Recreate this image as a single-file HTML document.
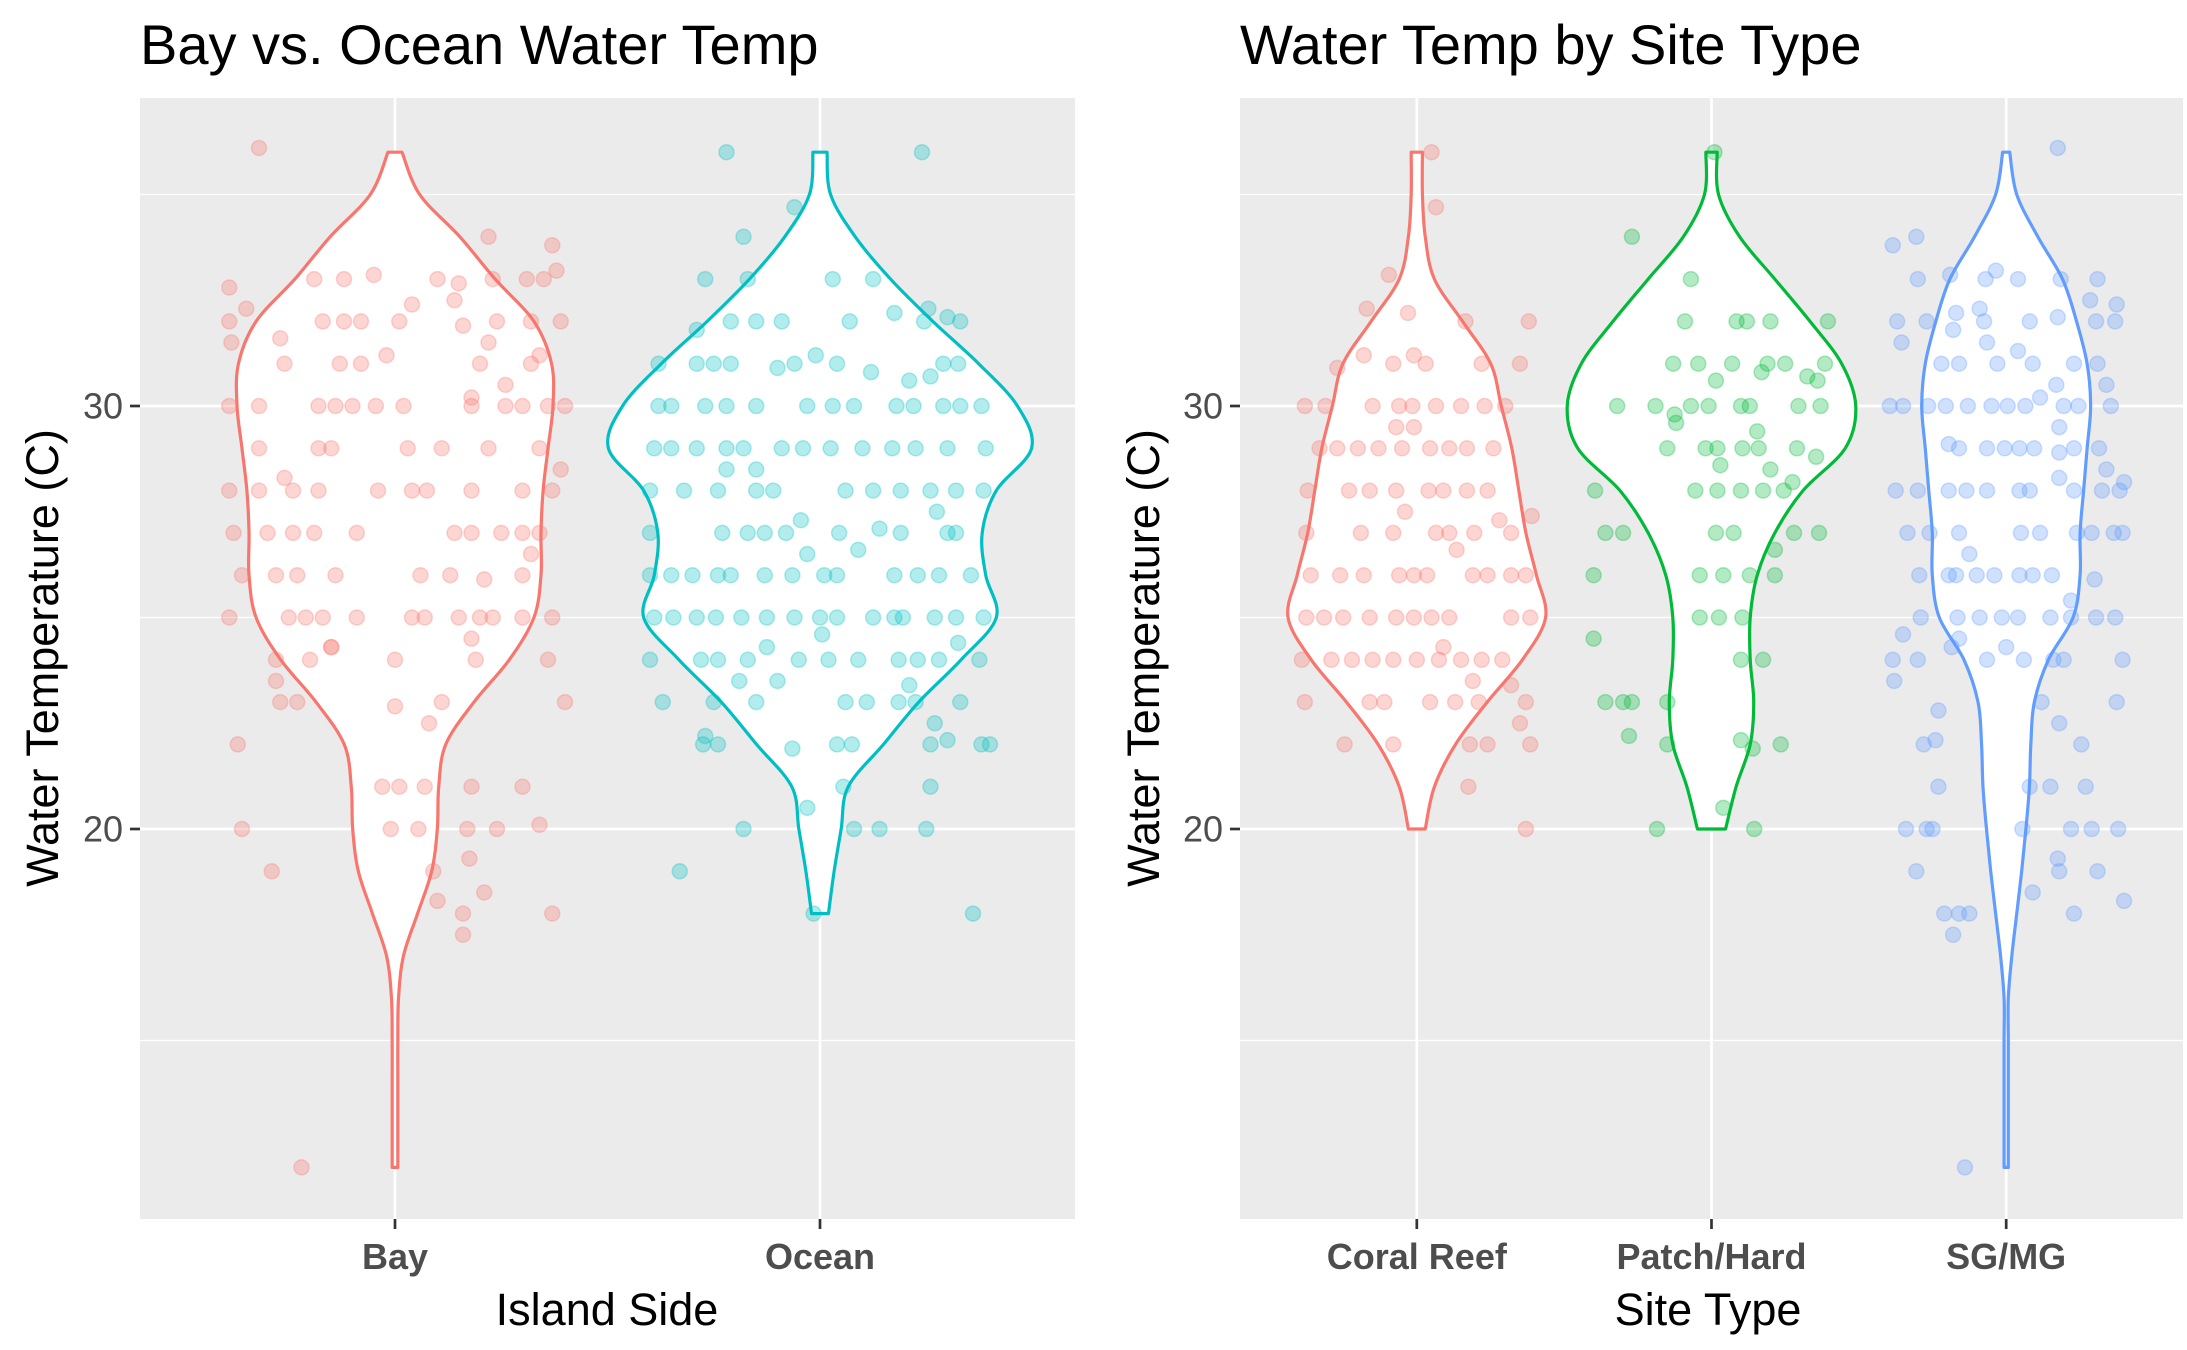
<!DOCTYPE html>
<html><head><meta charset="utf-8"><style>
html,body{margin:0;padding:0;background:#fff}
svg{display:block;font-family:"Liberation Sans",Arial,sans-serif}
</style></head><body>
<svg id="chart" width="2187" height="1350" viewBox="0 0 2187 1350" xmlns="http://www.w3.org/2000/svg">
<rect width="2187" height="1350" fill="#fff"/>
<g id="left"></g>
<g id="right"></g>
<text x="140" y="64" font-size="56" fill="#000">Bay vs. Ocean Water Temp</text>
<text x="1240" y="64" font-size="56" fill="#000">Water Temp by Site Type</text>
<text transform="translate(58,658) rotate(-90)" text-anchor="middle" font-size="45" fill="#000">Water Temperature (C)</text>
<text transform="translate(1159,658) rotate(-90)" text-anchor="middle" font-size="45" fill="#000">Water Temperature (C)</text>
<text x="607" y="1325" text-anchor="middle" font-size="45" fill="#000">Island Side</text>
<text x="1708" y="1325" text-anchor="middle" font-size="45" fill="#000">Site Type</text>
</svg>
<script>
const yTicks=[20,30];
const yMinor=[15,25,35];
const leftCats=["Bay","Ocean"];
const rightCats=["Coral Reef","Patch/Hard","SG/MG"];
const bayDensStart=12;
const bayDens=[4,4,4,4,5,12,32,52,60,62,72,112,162,197,207,207,210,217,224,222,197,142,92,35,10];
const oceanDensStart=18;
const oceanDens=[12,20,30,40,90,140,200,250,235,230,250,300,280,225,160,100,50,15,10];
const coralDensStart=20;
const coralDens=[12,25,55,100,150,183,170,155,145,135,120,105,65,25,12,8,8];
const patchDensStart=20;
const patchDens=[20,35,55,60,55,55,65,90,130,190,205,185,140,90,40,10,8];
const sgDensStart=12;
const sgDens=[3,3,3,3,3,8,15,22,28,33,35,40,60,95,105,105,110,115,120,115,100,80,45,15,5];
const bayPoints=[[36.1,-.32],[12,-.22],[32.8,-.39],[32.3,-.35],[32,-.39],[31.5,-.385],[30,-.39],[28,-.39],[27,-.38],[26,-.36],[25,-.39],[22,-.37],[20,-.36],[19,-.29],[31.6,-.27],[31,-.26],[30,-.32],[29,-.32],[28.3,-.26],[28,-.32],[28,-.24],[27,-.3],[27,-.24],[26,-.28],[26,-.23],[25,-.25],[25,-.21],[25,-.17],[24,-.28],[24,-.2],[24.3,-.15],[23.5,-.28],[23,-.27],[23,-.23],[33,-.19],[33,-.12],[33.1,-.05],[32,-.17],[32,-.12],[32,-.08],[32,.01],[32.4,.04],[31.2,-.02],[31,-.13],[31,-.08],[30,-.18],[30,-.14],[30,-.1],[30,-.045],[30,.02],[29,-.18],[29,-.15],[29,.03],[28,-.18],[28,-.04],[28,.04],[28,.075],[27,-.19],[27,-.09],[26,-.14],[26,.06],[26,.13],[25,-.09],[25,.04],[25,.07],[24.3,-.15],[24,0],[22.9,0],[22.5,.08],[23,.11],[21,-.03],[21,.01],[21,.07],[20,-.01],[20,.055],[19,.09],[18.3,.1],[33,.1],[32.9,.15],[32.5,.14],[31.9,.16],[34,.22],[33,.23],[33,.31],[33,.35],[33.8,.37],[33.2,.38],[32,.24],[32,.32],[32,.39],[31.5,.22],[31,.2],[31,.32],[31.2,.34],[30.5,.26],[30.2,.18],[30,.18],[30,.26],[30,.3],[30,.36],[30,.4],[29,.11],[29,.22],[29,.34],[28.5,.39],[28,.18],[28,.3],[28,.37],[27,.14],[27,.18],[27,.25],[27,.3],[27,.34],[26.5,.32],[25.9,.21],[26,.3],[25,.15],[25,.2],[25,.23],[25,.3],[25,.37],[24.5,.18],[24,.19],[24,.36],[23,.4],[21,.18],[21,.3],[20,.17],[20,.24],[20.1,.34],[19.3,.175],[18.5,.21],[18,.16],[17.5,.16],[18,.37]];
const oceanPoints=[[36,-.22],[36,.24],[34.7,-.06],[34,-.18],[33,-.27],[33,-.17],[33,.03],[33,.125],[31.8,-.29],[32,-.21],[32,-.15],[32,-.09],[32,.07],[32.2,.175],[32.3,.255],[32,.245],[32.1,.3],[32,.33],[31,-.38],[31,-.29],[31,-.25],[31,-.21],[30.9,-.1],[31,-.06],[31.2,-.01],[31,.04],[30.8,.12],[30.6,.21],[30.7,.26],[31,.29],[31,.325],[30,-.38],[30,-.35],[30,-.27],[30,-.22],[30,-.15],[30,-.03],[30,.03],[30,.08],[30,.18],[30,.22],[30,.29],[30,.33],[30,.38],[29,-.39],[29,-.35],[29,-.29],[29,-.22],[29,-.18],[29,-.09],[29,-.04],[29,.025],[29,.1],[29,.17],[29,.225],[29,.3],[29,.39],[28.5,-.22],[28.5,-.15],[28,-.4],[28,-.32],[28,-.24],[28,-.15],[28,-.11],[28,.06],[28,.125],[28,.19],[28,.26],[28,.32],[28,.385],[27.5,.275],[27,-.4],[27,-.23],[27,-.17],[27,-.13],[27,-.08],[27.3,-.045],[27,.045],[27.1,.14],[27,.19],[27,.3],[27,.32],[26.5,-.03],[26.6,.09],[26,-.4],[26,-.35],[26,-.3],[26,-.24],[26,-.21],[26,-.13],[26,-.065],[26,.01],[26,.04],[26,.175],[26,.23],[26,.28],[26,.355],[25,-.39],[25,-.345],[25,-.29],[25,-.245],[25,-.185],[25,-.125],[25,-.06],[25,0],[25,.04],[25,.125],[25,.175],[25,.195],[25,.27],[25,.32],[25,.385],[24.6,.005],[24,-.4],[24,-.28],[24,-.24],[24,-.17],[24.3,-.125],[24,-.05],[24,.02],[24,.09],[24,.185],[24,.23],[24,.28],[24.4,.325],[24,.375],[23.5,-.19],[23.5,-.1],[23.4,.21],[23,-.37],[23,-.25],[23,-.15],[23,.06],[23,.11],[23,.185],[23,.225],[23,.33],[22.5,.27],[22,-.275],[22,-.24],[22.2,-.27],[21.9,-.065],[22,.04],[22,.075],[22,.26],[22.1,.3],[22,.38],[22,.4],[20.5,-.03],[21,.055],[21,.26],[20,-.18],[20,.08],[20,.14],[20,.25],[19,-.33],[18,-.015],[18,.36]];
const coralPoints=[[36,.05],[34.7,.065],[33.1,-.095],[32.3,-.17],[32,.165],[32,.38],[32.2,-.03],[31.2,-.18],[30.9,-.27],[31,-.08],[31.2,-.01],[31,.03],[31,.22],[31,.35],[30,-.38],[30,-.31],[30,-.15],[30,-.06],[30,-.015],[30,.065],[30,.15],[30,.23],[30,.3],[29.5,-.07],[29.5,-.01],[29,-.33],[29,-.27],[29,-.2],[29,-.13],[29,-.05],[29,.045],[29,.11],[29,.17],[29,.26],[28,-.37],[28,-.23],[28,-.16],[28,-.07],[28,.04],[28,.09],[28,.17],[28,.24],[27.4,.39],[27.5,-.04],[27,-.375],[27,-.19],[27,-.08],[27,.065],[27,.11],[27,.195],[27.3,.28],[27,.32],[26.6,.135],[26,-.36],[26,-.26],[26,-.18],[26,-.06],[26,-.01],[26,.035],[26,.19],[26,.24],[26,.32],[26,.37],[25,-.375],[25,-.315],[25,-.25],[25,-.16],[25,-.07],[25,-.01],[25,.05],[25,.11],[25,.32],[25,.385],[24,-.39],[24,-.29],[24,-.22],[24,-.15],[24,-.08],[24,0],[24,.075],[24,.15],[24,.22],[24,.29],[24.3,.09],[23.5,.19],[23.4,.32],[23,-.38],[23,-.16],[23,-.11],[23,.045],[23,.13],[23,.21],[23,.37],[22.5,.35],[22,-.245],[22,-.08],[22,.18],[22,.24],[22,.385],[21,.175],[20,.37]];
const patchPoints=[[36,.01],[34,-.27],[33,-.07],[32,-.09],[32,.085],[32,.12],[32,.2],[32,.395],[31,-.13],[31,-.045],[31,.07],[31,.19],[31,.25],[31,.385],[30.8,.17],[30.6,.015],[30.7,.325],[30.6,.36],[30,-.32],[30,-.19],[30,-.07],[30,-.01],[30,.1],[30,.13],[30,.295],[30,.37],[29.8,-.125],[29.6,-.12],[29.4,.155],[29,-.15],[29,-.02],[29,.02],[29,.105],[29,.16],[29,.29],[28.8,.355],[28.6,.03],[28.5,.2],[28,-.395],[28,-.055],[28,.02],[28,.1],[28,.175],[28,.245],[28.2,.275],[27,-.36],[27,-.3],[27,.015],[27,.075],[27,.28],[27,.365],[26.6,.215],[26,-.4],[26,-.04],[26,.04],[26,.13],[26,.215],[25,-.04],[25,.025],[25,.105],[24.5,-.4],[24,.1],[24,.175],[23,-.36],[23,-.3],[23,-.27],[23,-.15],[22.2,-.28],[22,-.15],[22.1,.1],[21.9,.14],[22,.235],[20.5,.04],[20,-.185],[20,.145]];
const sgPoints=[[36.1,.175],[33.8,-.385],[34,-.305],[33,-.3],[33.1,-.19],[33,-.07],[33.2,-.035],[33,.04],[33,.185],[33,.31],[32.5,.285],[32.4,.375],[32,-.37],[32,-.27],[32.2,-.17],[32,-.075],[32,.08],[32.1,.175],[32,.305],[32,.37],[31.5,-.355],[31.8,-.18],[32.3,-.09],[31.5,-.065],[31,-.22],[31,-.16],[31,-.03],[31.3,.04],[31,.09],[31,.23],[31,.31],[30.5,.17],[30.5,.34],[30,-.395],[30,-.35],[30,-.265],[30,-.205],[30,-.13],[30,-.05],[30,.005],[30,.065],[30,.195],[30,.245],[30,.355],[30.2,.115],[29.5,.18],[29.1,-.195],[29,-.16],[29,-.065],[29,-.005],[29,.045],[29,.095],[28.9,.18],[29,.23],[29,.315],[28.5,.34],[28,-.375],[28,-.3],[28,-.195],[28,-.135],[28,-.065],[28,.045],[28,.08],[28.3,.18],[28,.23],[28,.325],[28,.385],[28.2,.4],[27,-.335],[27,-.26],[27,-.16],[26.5,-.125],[27,.05],[27,.115],[27,.24],[27,.29],[27,.365],[27,.395],[26,-.295],[26,-.195],[26,-.17],[26,-.1],[26,-.04],[26,.045],[26,.09],[26,.155],[25.9,.3],[25,-.29],[25,-.165],[25,-.09],[25,-.015],[25,.04],[25,.15],[25,.22],[25,.305],[25,.37],[25.4,.22],[24,-.385],[24.6,-.35],[24,-.3],[24.3,-.185],[24.5,-.16],[24,-.065],[24.3,0],[24,.06],[24,.16],[24,.195],[24,.395],[23.5,-.38],[22.8,-.23],[23,.12],[23,.375],[22,-.28],[22.1,-.24],[22.5,.18],[22,.255],[21,-.23],[21,.08],[21,.15],[21,.27],[20,-.34],[20,-.27],[20,-.25],[20,.055],[20,.22],[20,.29],[20,.38],[19,-.305],[19.3,.175],[19,.18],[19,.31],[18,-.21],[18,-.16],[18,-.125],[18.5,.09],[18,.23],[18.3,.4],[17.5,-.18],[12,-.14]];

const NS="http://www.w3.org/2000/svg";
const COL={bay:"#F8766D",ocean:"#00BFC4",coral:"#F8766D",patch:"#00BA38",sg:"#619CFF"};
const yTop=406, y20=829;
function yScale(v){return y20-(v-20)*(y20-yTop)/10;}
function mk(tag,attrs,parent){const e=document.createElementNS(NS,tag);for(const k in attrs)e.setAttribute(k,attrs[k]);parent.appendChild(e);return e;}

function violinPath(cx,start,dens,k){
  const pts=dens.map((d,i)=>[d*k,yScale(start+i)]);
  function side(sign,arr){
    let s="";
    for(let i=0;i<arr.length-1;i++){
      const p0=arr[Math.max(0,i-1)],p1=arr[i],p2=arr[i+1],p3=arr[Math.min(arr.length-1,i+2)];
      const c1=[p1[0]+(p2[0]-p0[0])/6,p1[1]+(p2[1]-p0[1])/6];
      const c2=[p2[0]-(p3[0]-p1[0])/6,p2[1]-(p3[1]-p1[1])/6];
      s+=` C${cx+sign*c1[0]},${c1[1]} ${cx+sign*c2[0]},${c2[1]} ${cx+sign*p2[0]},${p2[1]}`;
    }
    return s;
  }
  let d=`M${cx+pts[0][0]},${pts[0][1]}`+side(1,pts);
  const rev=pts.slice().reverse();
  d+=` L${cx-rev[0][0]},${rev[0][1]}`+side(-1,rev)+" Z";
  return d;
}

function panel(g,x0,x1,cats,groups,k,name){
  const y0=98,y1=1219;
  const bw=(x1-x0)/(cats.length-1+1.2);
  const xScale=i=>x0+bw*(i+0.6);
  const bg=mk('rect',{x:x0,y:y0,width:x1-x0,height:y1-y0,fill:'#EBEBEB'},g);
  
  
  yMinor.forEach(v=>{const l=mk('line',{x1:x0,x2:x1,y1:yScale(v),y2:yScale(v),stroke:'#fff','stroke-width':1.3},g);
    
    });
  yTicks.forEach(v=>{const l=mk('line',{x1:x0,x2:x1,y1:yScale(v),y2:yScale(v),stroke:'#fff','stroke-width':2.7},g);
    
    
    const t=mk('line',{x1:x0-10,x2:x0,y1:yScale(v),y2:yScale(v),stroke:'#333','stroke-width':2.7},g);
    
    
    const tx=mk('text',{x:x0-17,y:yScale(v)+12.5,'text-anchor':'end','font-size':36,fill:'#4D4D4D'},g);
    tx.textContent=v;
    
    });
  cats.forEach((c,i)=>{const x=xScale(i);
    const l=mk('line',{x1:x,x2:x,y1:y0,y2:y1,stroke:'#fff','stroke-width':2.7},g);
    
    
    const t=mk('line',{x1:x,x2:x,y1:y1,y2:y1+10,stroke:'#333','stroke-width':2.7},g);
    
    
    const tx=mk('text',{x:x,y:1269,'text-anchor':'middle','font-size':36,'font-weight':'bold',fill:'#4D4D4D'},g);
    tx.textContent=c;
    
    });
  groups.forEach((gr,i)=>{const cx=xScale(i);
    const p=mk('path',{d:violinPath(cx,gr.start,gr.dens,k),fill:'#fff',stroke:gr.col,'stroke-width':3.2,'stroke-linejoin':'round'},g);
    
    });
  groups.forEach((gr,i)=>{const cx=xScale(i);
    const pg=mk('g',{},g);
    
    
    gr.pts.forEach(pt=>{const c=mk('circle',{cx:cx+pt[1]*bw,cy:yScale(pt[0]),r:7.5,fill:gr.col,'fill-opacity':0.3,stroke:gr.col,'stroke-opacity':0.3,'stroke-width':1.5},pg);
      
      });});
}
panel(document.getElementById('left'),140,1075,leftCats,[
  {id:'bay',start:bayDensStart,dens:bayDens,pts:bayPoints,col:COL.bay},
  {id:'ocean',start:oceanDensStart,dens:oceanDens,pts:oceanPoints,col:COL.ocean}],1/1.418,'left-panel');
panel(document.getElementById('right'),1240,2183,rightCats,[
  {id:'coral-reef',start:coralDensStart,dens:coralDens,pts:coralPoints,col:COL.coral},
  {id:'patch-hard',start:patchDensStart,dens:patchDens,pts:patchPoints,col:COL.patch},
  {id:'sg-mg',start:sgDensStart,dens:sgDens,pts:sgPoints,col:COL.sg}],1/1.421,'right-panel');
</script>
</body></html>
